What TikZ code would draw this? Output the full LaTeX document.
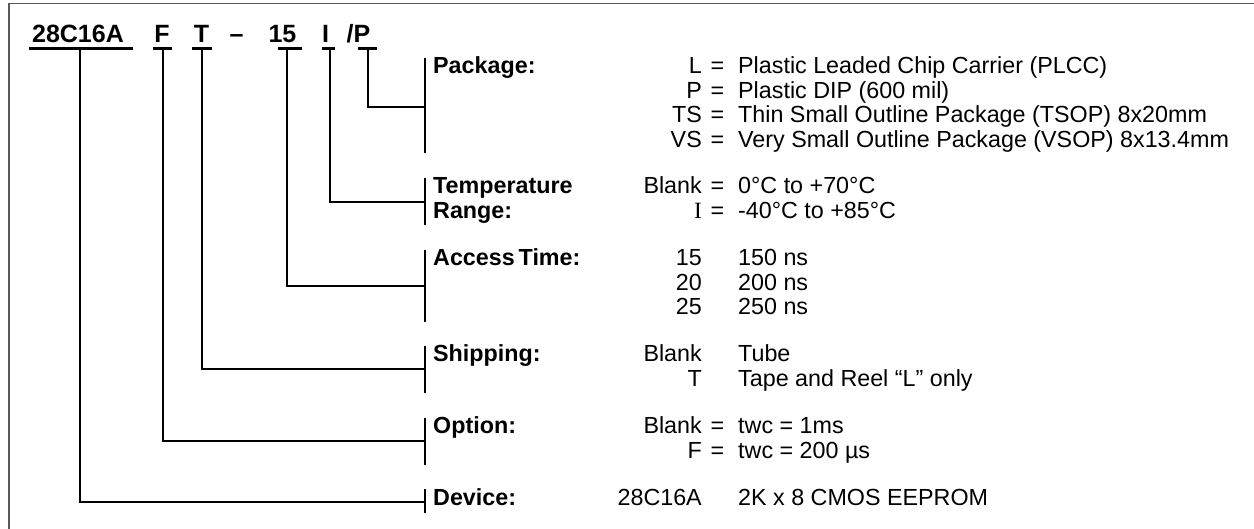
\documentclass[tikz,border=0pt]{standalone}
\usepackage{fontspec}
\setmainfont{Liberation Sans}
\newfontfamily\timesfont{Liberation Serif}
\definecolor{framegray}{gray}{0.35}
\tikzset{
  txt/.style={inner sep=0pt,font=\fontsize{23.3}{24.5}\selectfont},
  lbl/.style={inner sep=0pt,font=\fontsize{23.3}{24.5}\selectfont\bfseries,anchor=base west},
  code/.style={txt,anchor=base east},
  val/.style={txt,anchor=base west},
  eq/.style={txt,anchor=base},
  ttl/.style={inner sep=0pt,font=\fontsize{25}{26}\selectfont\bfseries,anchor=base},
  ul/.style={line width=2.6pt},
  conn/.style={line width=2.6pt},
  bar/.style={line width=2.4pt}
}
\begin{document}
\begin{tikzpicture}[x=1pt,y=-1pt]
    \useasboundingbox (0,0) rectangle (1254,529);
    \draw[framegray,line width=1.6pt] (9,529) -- (9,3.5) -- (1254,3.5); %cornice
    % codice
    \node[ttl] (tDev) at (78,42.5) {28C16A};
    \node[ttl] (tOpt) at (162,42.5) {F};
    \node[ttl] (tShip) at (201.5,42.5) {T};
    \node[ttl] (tDash) at (236.5,42.5) {–};
    \node[ttl] (tAcc) at (282.5,42.5) {15};
    \node[ttl] (tTemp) at (325.5,42.5) {I};
    \node[ttl] (tPkg) at (358.5,42.5) {/P};
    \draw[ul] (29,48.5) -- (133,48.5);
    \draw[ul] (153,48.5) -- (172,48.5);
    \draw[ul] (192,48.5) -- (212,48.5);
    \draw[ul] (278,48.5) -- (302,48.5);
    \draw[ul] (322,48.5) -- (335,48.5);
    \draw[ul] (358,48.5) -- (377,48.5);
    \coordinate (uDev) at (80,48.5);
    \coordinate (uOpt) at (163,48.5);
    \coordinate (uShip) at (202,48.5);
    \coordinate (uAcc) at (287,48.5);
    \coordinate (uTemp) at (330,48.5);
    \coordinate (uPkg) at (368,48.5);
    % barre
    \draw[bar] (425,58) -- (425,153);
    \draw[bar] (425,178) -- (425,225);
    \draw[bar] (425,250) -- (425,322);
    \draw[bar] (425,346) -- (425,393);
    \draw[bar] (425,418) -- (425,465);
    \draw[bar] (425,489) -- (425,513);
    \coordinate (jPkg) at (425,107);
    \coordinate (jTemp) at (425,202);
    \coordinate (jAcc) at (425,286);
    \coordinate (jShip) at (425,369);
    \coordinate (jOpt) at (425,441);
    \coordinate (jDev) at (425,502);
    % collegamenti
    \draw[conn] (uPkg) |- (jPkg);
    \draw[conn] (uTemp) |- (jTemp);
    \draw[conn] (uAcc) |- (jAcc);
    \draw[conn] (uShip) |- (jShip);
    \draw[conn] (uOpt) |- (jOpt);
    \draw[conn] (uDev) |- (jDev);
    % package
    \node[lbl] (lPkg) at (433,74) {Package:};
    \node[code] (cL) at (702,74) {L};
    \node[eq] at (717.5,74) {=};
    \node[val] (vL) at (738,74) {Plastic Leaded Chip Carrier (PLCC)};
    \node[code] (cP) at (702,98.5) {P};
    \node[eq] at (717.5,98.5) {=};
    \node[val] (vP) at (738,98.5) {Plastic DIP (600 mil)};
    \node[code] (cTS) at (702,123) {TS};
    \node[eq] at (717.5,123) {=};
    \node[val] (vTS) at (738,123) {Thin Small Outline Package (TSOP) 8x20mm};
    \node[code] (cVS) at (702,147.5) {VS};
    \node[eq] at (717.5,147.5) {=};
    \node[val] (vVS) at (738,147.5) {Very Small Outline Package (VSOP) 8x13.4mm};
    % temperatura
    \node[lbl] (lTemp) at (433,194) {Temperature};
    \node[lbl] (lRange) at (433,218.5) {Range:};
    \node[code] (cBlank) at (702,194) {Blank};
    \node[eq] at (717.5,194) {=};
    \node[val] (vCom) at (738,194) {0°C to +70°C};
    \node[code] (cI) at (702,218.5) {\timesfont I};
    \node[eq] at (717.5,218.5) {=};
    \node[val] (vInd) at (738,218.5) {-40°C to +85°C};
    % tempo di accesso
    \node[lbl] (lAcc) at (433,266) {Access\,Time:};
    \node[code] (c15) at (702,266) {15};
    \node[val] (v15) at (738,266) {150 ns};
    \node[code] (c20) at (702,290.5) {20};
    \node[val] (v20) at (738,290.5) {200 ns};
    \node[code] (c25) at (702,315) {25};
    \node[val] (v25) at (738,315) {250 ns};
    % spedizione
    \node[lbl] (lShip) at (433,362) {Shipping:};
    \node[code] (cTube) at (702,362) {Blank};
    \node[val] (vTube) at (738,362) {Tube};
    \node[code] (cReel) at (702,386.5) {T};
    \node[val] (vReel) at (738,386.5) {Tape and Reel “L” only};
    % opzione
    \node[lbl] (lOpt) at (433,434) {Option:};
    \node[code] (cOpt) at (702,434) {Blank};
    \node[eq] at (717.5,434) {=};
    \node[val] (vOpt) at (738,434) {twc = 1ms};
    \node[code] (cF) at (702,458.5) {F};
    \node[eq] at (717.5,458.5) {=};
    \node[val] (vF) at (738,458.5) {twc = 200 µs};
    % dispositivo
    \node[lbl] (lDev) at (433,505) {Device:};
    \node[code] (cDev) at (702,505) {28C16A};
    \node[val] (vDev) at (738,505) {2K x 8 CMOS EEPROM};
  \end{tikzpicture}
\end{document}
